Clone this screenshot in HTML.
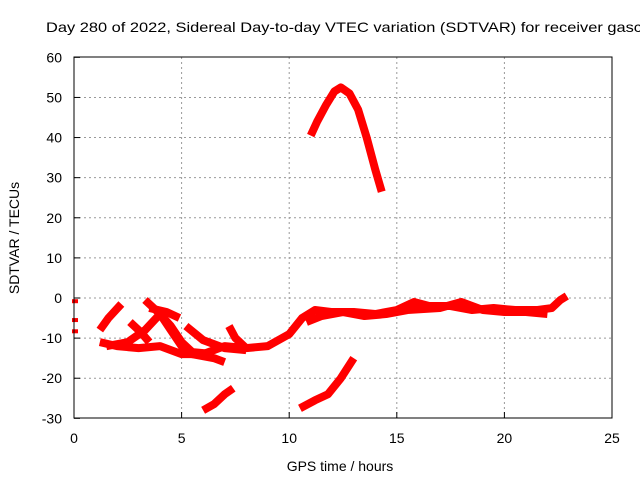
<!DOCTYPE html>
<html><head><meta charset="utf-8"><style>
body{margin:0;background:#fff;}
svg{display:block;font-family:"Liberation Sans",sans-serif;}
</style></head><body>
<svg id="chart" width="640" height="480" viewBox="0 0 640 480">
<text x="46" y="32" font-size="14" textLength="596" lengthAdjust="spacingAndGlyphs">Day 280 of 2022, Sidereal Day-to-day VTEC variation (SDTVAR) for receiver gasc</text>
<text x="340" y="471" font-size="14" text-anchor="middle">GPS time / hours</text>
<text transform="translate(19,238) rotate(-90)" font-size="14" text-anchor="middle">SDTVAR / TECUs</text>
<g id="grid"></g>
<g id="series"></g>
<rect x="74" y="57" width="538" height="361" fill="none" stroke="#000" stroke-width="1"/>
</svg>
<script>
const xTicks=[0,5,10,15,20,25];
const yTicks=[-30,-20,-10,0,10,20,30,40,50,60];
const arc=[[11.0,40.5],[11.3,44],[11.7,48],[12.1,51.5],[12.4,52.5],[12.8,51],[13.2,47],[13.6,40],[14.0,32],[14.3,26.5]];
const low1=[[6.0,-28],[6.5,-26.5],[7.0,-24],[7.4,-22.5]];
const low2=[[10.5,-27.5],[11.2,-25.5],[11.8,-24],[12.4,-20],[13.0,-15]];
const band=[[1.2,-11],[2,-12],[3,-12.5],[4,-12],[5,-14],[6,-14],[7,-12],[8,-12.5],[9,-12],[10,-9],[10.6,-5],[11.2,-3],[12,-3.5],[13,-3.5],[14,-4],[15,-3],[15.8,-1],[16.5,-2],[17.5,-2],[18.5,-3],[19.5,-2.5],[20.5,-3],[21.5,-3],[22.2,-2.5],[22.6,-0.5],[22.9,0.5]];
const band2=[[10.8,-6],[11.5,-4.5],[12.5,-3.5],[13.5,-4.5],[14.5,-4],[15.5,-3],[17,-2.5],[18,-1],[19,-3],[20,-3.5],[21,-3.5],[22,-4]];
const rise1=[[1.2,-8],[1.6,-5],[2.2,-1.5]];
const trackA=[[1.5,-12],[2.5,-11],[3.3,-8],[4,-4],[4.5,-7],[5,-11],[5.5,-13.5],[6.5,-14]];
const trackB=[[3.3,-0.5],[4,-4],[4.5,-8],[5,-12],[5.5,-14],[6,-14.5],[6.5,-15],[7,-16]];
const trackC=[[2.6,-6],[3.1,-8.5],[3.5,-11]];
const trackD=[[3.5,-2.5],[4.3,-3.5],[4.9,-5]];
const trackE=[[5.2,-7],[6,-10.5],[7,-12.5],[8,-13]];
const trackF=[[7.2,-7],[7.5,-10],[8,-12.5]];
const dotsA=[[0,-0.8]];
const dotsB=[[0,-5.5]];
const dotsC=[[0,-8.3]];
const allSeries=[arc,low1,low2,band,band2,rise1,trackA,trackB,trackC,trackD,trackE,trackF,dotsA,dotsB,dotsC];
const NS="http://www.w3.org/2000/svg";
function xs(v){return 74+v*538/25;}
function ys(v){return 298-v*361/90;}
const grid=document.getElementById('grid');
xTicks.forEach(t=>{
 const x=xs(t);
 if(t>0&&t<25){const l=document.createElementNS(NS,'line');
 
 
 l.setAttribute('x1',x);l.setAttribute('x2',x);l.setAttribute('y1',57);l.setAttribute('y2',418);
 l.setAttribute('stroke','#999');l.setAttribute('stroke-dasharray','2,3');grid.appendChild(l);}
 const tk=document.createElementNS(NS,'line');
 
 
 tk.setAttribute('x1',x);tk.setAttribute('x2',x);tk.setAttribute('y1',418);tk.setAttribute('y2',412);tk.setAttribute('stroke','#000');grid.appendChild(tk);
 const tx=document.createElementNS(NS,'text');
 
 
 tx.setAttribute('x',x);tx.setAttribute('y',443);tx.setAttribute('font-size','14');tx.setAttribute('text-anchor','middle');tx.textContent=t;grid.appendChild(tx);
});
yTicks.forEach(t=>{
 const y=ys(t);
 if(t>-30&&t<60){const l=document.createElementNS(NS,'line');
 
 
 l.setAttribute('x1',74);l.setAttribute('x2',612);l.setAttribute('y1',y);l.setAttribute('y2',y);
 l.setAttribute('stroke','#999');l.setAttribute('stroke-dasharray','2,3');grid.appendChild(l);}
 const tk=document.createElementNS(NS,'line');
 
 
 tk.setAttribute('x1',74);tk.setAttribute('x2',80);tk.setAttribute('y1',y);tk.setAttribute('y2',y);tk.setAttribute('stroke','#000');grid.appendChild(tk);
 const tx=document.createElementNS(NS,'text');
 
 
 tx.setAttribute('x',62);tx.setAttribute('y',y+5);tx.setAttribute('font-size','14');tx.setAttribute('text-anchor','end');tx.textContent=t;grid.appendChild(tx);
});
const sg=document.getElementById('series');
allSeries.forEach(s=>{
 const p=document.createElementNS(NS,'polyline');
 
 
 let pts=s.map(d=>xs(d[0])+','+ys(d[1]));
 if(s.length===1){pts=[(xs(s[0][0])-2)+','+ys(s[0][1]),(xs(s[0][0])+4)+','+ys(s[0][1])];}
 p.setAttribute('points',pts.join(' '));
 p.setAttribute('fill','none');p.setAttribute('stroke','#f00');p.setAttribute('stroke-width',s.length===1?'4':'8');
 p.setAttribute('stroke-linejoin','round');
 sg.appendChild(p);
});
</script>
</body></html>
